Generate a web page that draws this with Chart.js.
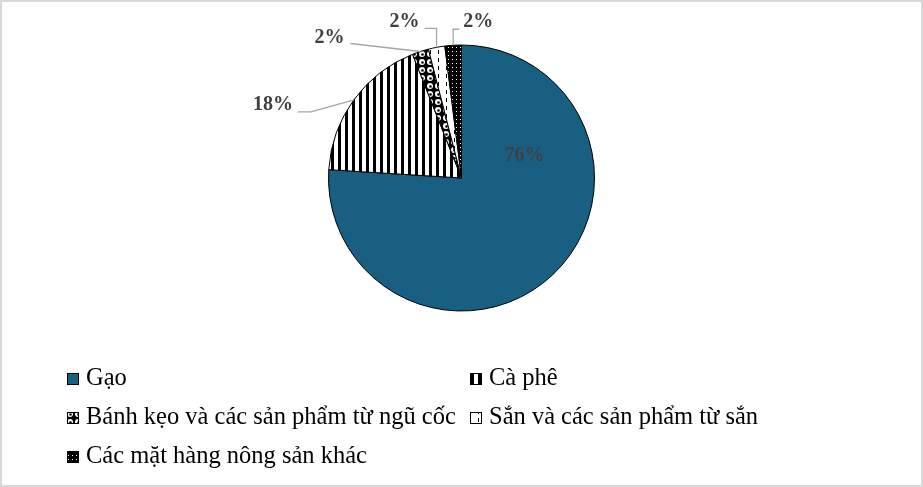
<!DOCTYPE html>
<html>
<head>
<meta charset="utf-8">
<script src="https://cdn.jsdelivr.net/npm/chart.js@4.4.1/dist/chart.umd.min.js"></script>
<style>
  html, body { margin: 0; padding: 0; background: #fff; }
  #frame { position: relative; width: 919px; height: 483px; border: 2px solid #d9d9d9; overflow: hidden; background: #fff; }
  #wrap { position: absolute; left: 0; top: 0; width: 919px; height: 352px; }
  #legend { position: absolute; left: 0; top: 352px; width: 919px; height: 131px; }
</style>
</head>
<body>
<div id="frame">
  <div id="wrap"><canvas id="pie"></canvas></div>
  <canvas id="legend" width="919" height="131"></canvas>
</div>
<script>
// data
const categories = ["Gạo", "Cà phê", "Bánh kẹo và các sản phẩm từ ngũ cốc", "Sắn và các sản phẩm từ sắn", "Các mặt hàng nông sản khác"];
const shares = [76, 18, 2, 2, 2];

// fill for each slice
const fills = ["solid", "vstripe", "sphere", "dashv", "dots"];
const solidColor = "#185f82";

// label placement, relative to slice edge (or pie centre for the big one)
const labelLayout = [
  { anchor: "center", dx: 63, dy: -22 },
  { anchor: "edge", dx: -81, dy: 5, leader: "elbow" },
  { anchor: "edge", dx: -91, dy: -14, leader: "straight" },
  { anchor: "edge", dx: -32, dy: -26, leader: "up" },
  { anchor: "edge", dx: 25, dy: -23, leader: "up" }
];

// legend grid (left col / right col, text baselines inside legend canvas)
const legendCols = [65, 468];
const legendBaselines = [31, 70, 109];

function makeFill(ctx, type) {
  if (type === "solid") return solidColor;
  const t = document.createElement("canvas");
  const c = t.getContext("2d");
  if (type === "vstripe") {
    t.width = 7; t.height = 2;
    c.fillStyle = "#fff"; c.fillRect(0, 0, 7, 2);
    c.fillStyle = "#000"; c.fillRect(0, 0, 3, 2);
  } else if (type === "sphere") {
    t.width = 8; t.height = 8;
    c.fillStyle = "#000"; c.fillRect(0, 0, 8, 8);
    c.fillStyle = "#fff";
    c.beginPath(); c.arc(4, 4, 3, 0, Math.PI * 2); c.fill();
    c.fillStyle = "#000";
    c.beginPath(); c.arc(4.5, 4.5, 1.3, 0, Math.PI * 2); c.fill();
  } else if (type === "dashv") {
    t.width = 8; t.height = 8;
    c.fillStyle = "#fff"; c.fillRect(0, 0, 8, 8);
    c.fillStyle = "#000"; c.fillRect(4, 0, 1, 4);
  } else if (type === "dots") {
    t.width = 4; t.height = 4;
    c.fillStyle = "#000"; c.fillRect(0, 0, 4, 4);
    c.fillStyle = "#fff"; c.fillRect(2, 1, 1, 1);
  }
  return ctx.createPattern(t, "repeat");
}

const labelFont = 'bold 20px "Liberation Serif", "Times New Roman", serif';
const legendFont = '24.5px "Liberation Serif", "Times New Roman", serif';

const labelPlugin = {
  id: "sliceLabels",
  afterDatasetsDraw(chart) {
    const ctx = chart.ctx;
    const meta = chart.getDatasetMeta(0);
    ctx.save();
    ctx.font = labelFont;
    ctx.textAlign = "center";
    ctx.textBaseline = "middle";
    meta.data.forEach((arc, i) => {
      const p = arc.getProps(["x", "y", "startAngle", "endAngle", "outerRadius"], true);
      const lay = labelLayout[i];
      const text = shares[i] + "%";
      const mid = (p.startAngle + p.endAngle) / 2;
      const ex = p.x + Math.cos(mid) * p.outerRadius;
      const ey = p.y + Math.sin(mid) * p.outerRadius;
      let lx, ly;
      if (lay.anchor === "center") {
        lx = p.x + lay.dx; ly = p.y + lay.dy;
      } else {
        lx = ex + lay.dx; ly = ey + lay.dy;
      }
      const w = ctx.measureText(text).width;
      if (lay.leader) {
        ctx.strokeStyle = "#a6a6a6";
        ctx.lineWidth = 1.3;
        ctx.beginPath();
        ctx.moveTo(ex, ey);
        const right = lx + w / 2, left = lx - w / 2;
        if (lay.leader === "elbow") {
          ctx.lineTo(right + 18, ly + 7);
          ctx.lineTo(right + 5, ly + 7);
        } else if (lay.leader === "straight") {
          ctx.lineTo(right + 6, ly + 6);
        } else if (lay.leader === "up") {
          ctx.lineTo(ex, ly + 7);
          ctx.lineTo(ex < lx ? left - 4 : right + 5, ly + 7);
        }
        ctx.stroke();
      }
      ctx.fillStyle = "#404040";
      ctx.fillText(text, lx, ly);
    });
    ctx.restore();
  }
};

const canvas = document.getElementById("pie");
const cctx = canvas.getContext("2d");

new Chart(cctx, {
  type: "pie",
  data: {
    labels: categories,
    datasets: [{
      data: shares,
      backgroundColor: fills.map(f => makeFill(cctx, f)),
      borderColor: "#000",
      borderWidth: 1
    }]
  },
  options: {
    responsive: true,
    maintainAspectRatio: false,
    animation: false,
    radius: 133,
    layout: { padding: 0 },
    plugins: {
      legend: { display: false },
      tooltip: { enabled: false }
    }
  },
  plugins: [labelPlugin]
});

// legend, two columns like the original
function drawLegend() {
  const lc = document.getElementById("legend").getContext("2d");
  lc.clearRect(0, 0, 919, 131);
  lc.font = legendFont;
  lc.textBaseline = "alphabetic";
  lc.textAlign = "left";
  categories.forEach((name, i) => {
    const x = legendCols[i % 2];
    const base = legendBaselines[Math.floor(i / 2)];
    lc.fillStyle = makeFill(lc, fills[i]);
    lc.fillRect(x, base - 12, 12, 12);
    lc.strokeStyle = "#000";
    lc.lineWidth = 1;
    lc.strokeRect(x + 0.5, base - 11.5, 11, 11);
    lc.fillStyle = "#000";
    lc.fillText(name, x + 19, base);
  });
}
if (document.fonts && document.fonts.load) {
  document.fonts.load(legendFont).then(drawLegend, drawLegend);
} else {
  drawLegend();
}
</script>
</body>
</html>
